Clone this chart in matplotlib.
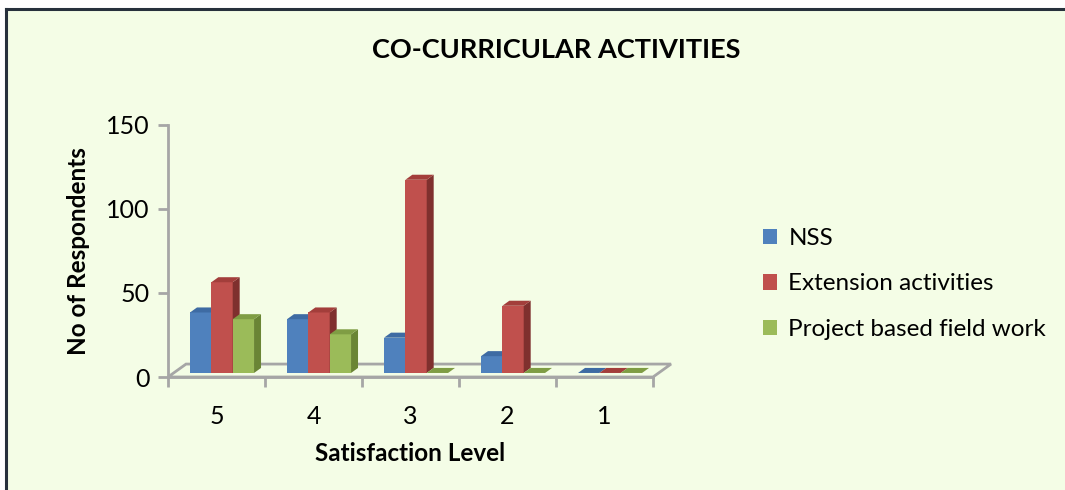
import matplotlib
matplotlib.use("Agg")
import matplotlib.pyplot as plt
from matplotlib.patches import Polygon
from matplotlib.lines import Line2D

plt.rcParams["font.family"] = ["Lato", "DejaVu Sans"]

# Data
categories = ["5", "4", "3", "2", "1"]
series_names = ["NSS", "Extension activities", "Project based field work"]
nss = [36, 32, 21, 10, 0]
extension = [54, 36, 115, 40, 0]
project = [32, 23, 0, 0, 0]

front_colors = ["#4F81BD", "#C0504D", "#9BBB59"]
top_colors = ["#3E6BA3", "#A33E3B", "#7F9D44"]
side_colors = ["#375C89", "#7F302E", "#6A8535"]

BG = "#F4FDE6"

fig = plt.figure(figsize=(10.65, 4.9), dpi=100)
fig.patch.set_facecolor("white")
# chart area background (starts a little in from top-left)
fig.add_artist(plt.Rectangle((6 / 1065, 0), 1, 1 - 10 / 490,
                             transform=fig.transFigure, facecolor=BG, edgecolor="none", zorder=0))
fig.add_artist(Line2D([6 / 1065, 6 / 1065], [0, 1 - 9 / 490], transform=fig.transFigure,
                      color="#27313C", lw=2.2))
fig.add_artist(Line2D([6 / 1065, 1], [1 - 9.5 / 490, 1 - 9.5 / 490], transform=fig.transFigure,
                      color="#27313C", lw=2.2))

ax = fig.add_axes([168 / 1065, 113 / 490, 485 / 1065, 252 / 490])
ax.set_facecolor("none")
ax.set_xlim(-0.5, len(categories) - 0.5)
ax.set_ylim(0, 150)

# 3d-ish geometry (in data units)
depth_x = 0.186      # floor skew
depth_y = 7.7
base_y = 2.4
base_x = 0.057
bw = 0.22
sx = 0.072           # side face width
ty = 3.0             # top face rise

# floor
floor = Polygon([(-0.5, 0), (4.5, 0), (4.5 + depth_x, depth_y), (-0.5 + depth_x, depth_y)],
                closed=True, facecolor="none", edgecolor="#A6A6A6", lw=2.0, clip_on=False, zorder=1)
ax.add_patch(floor)

all_series = [nss, extension, project]
for i, vals in enumerate(all_series):
    for j, v in enumerate(vals):
        x0 = j + base_x + (i - 1.5) * bw
        x1 = x0 + bw
        y0 = base_y
        y1 = base_y + v
        if v > 0:
            ax.add_patch(plt.Rectangle((x0, y0), bw, v, facecolor=front_colors[i],
                                       edgecolor="none", zorder=3 + i, clip_on=False))
            ax.add_patch(Polygon([(x1, y0), (x1 + sx, y0 + ty), (x1 + sx, y1 + ty), (x1, y1)],
                                 closed=True, facecolor=side_colors[i], edgecolor="none",
                                 zorder=3 + i, clip_on=False))
        ax.add_patch(Polygon([(x0, y1), (x1, y1), (x1 + sx, y1 + ty), (x0 + sx, y1 + ty)],
                             closed=True, facecolor=top_colors[i], edgecolor="none",
                             zorder=3 + i, clip_on=False))

for s in ["top", "right"]:
    ax.spines[s].set_visible(False)
for s in ["left", "bottom"]:
    ax.spines[s].set_color("#A6A6A6")
    ax.spines[s].set_linewidth(2.0)

ax.set_yticks([0, 50, 100, 150])
ax.set_xticks([x - 0.5 for x in range(len(categories) + 1)], minor=False)
ax.set_xticklabels([])
ax.set_xticks(range(len(categories)), minor=True)
ax.set_xticklabels(categories, minor=True)
ax.tick_params(axis="x", which="major", length=7, width=2, color="#A6A6A6", direction="out")
ax.tick_params(axis="x", which="minor", length=0, pad=20, labelsize=18)
ax.tick_params(axis="y", length=7, width=2, color="#A6A6A6", labelsize=18, pad=6)

ax.set_xlabel("Satisfaction Level", fontsize=17.5, fontweight="bold", labelpad=10)
ax.set_ylabel("No of Respondents", fontsize=17.5, fontweight="bold", labelpad=12)

fig.text(556 / 1065, 1 - 50 / 490, "CO-CURRICULAR ACTIVITIES", ha="center", va="center",
         fontsize=19.5, fontweight="bold")

# legend
handles = [plt.Rectangle((0, 0), 1, 1, facecolor=c) for c in front_colors]
fig.legend(handles, series_names, loc="center left", bbox_to_anchor=(741 / 1065, 1 - 284 / 490),
           frameon=False, fontsize=17.5, handlelength=0.6, handleheight=0.6,
           handletextpad=0.45, labelspacing=1.0)

fig.savefig("out.png", dpi=100, facecolor=fig.get_facecolor())
